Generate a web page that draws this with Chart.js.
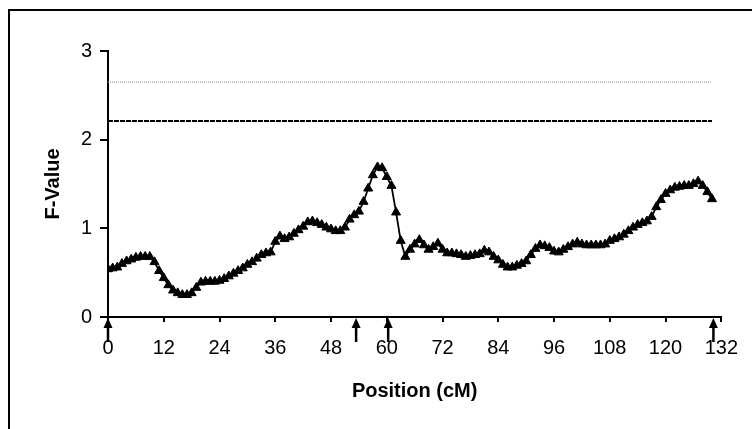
<!DOCTYPE html>
<html><head><meta charset="utf-8">
<script src="https://cdn.jsdelivr.net/npm/chart.js@4/dist/chart.umd.min.js"></script>
<style>html,body{margin:0;padding:0;background:#fff;overflow:hidden}
#wrap{position:relative;width:752px;height:429px}</style></head>
<body><div id="wrap"><canvas id="c" width="752" height="429"></canvas></div>
<script>
const positions = [0,1,2,3,4,5,6,7,8,9,10,11,12,13,14,15,16,17,18,19,20,21,22,23,24,25,26,27,28,29,30,31,32,33,34,35,36,37,38,39,40,41,42,43,44,45,46,47,48,49,50,51,52,53,54,55,56,57,58,59,60,61,62,63,64,65,66,67,68,69,70,71,72,73,74,75,76,77,78,79,80,81,82,83,84,85,86,87,88,89,90,91,92,93,94,95,96,97,98,99,100,101,102,103,104,105,106,107,108,109,110,111,112,113,114,115,116,117,118,119,120,121,122,123,124,125,126,127,128,129,130];
const fValues = [0.54,0.55,0.56,0.60,0.63,0.65,0.67,0.68,0.68,0.68,0.62,0.52,0.44,0.36,0.30,0.27,0.25,0.25,0.27,0.33,0.39,0.40,0.40,0.40,0.41,0.43,0.46,0.49,0.52,0.55,0.59,0.62,0.66,0.70,0.72,0.73,0.85,0.91,0.88,0.90,0.94,0.98,1.02,1.07,1.08,1.06,1.04,1.01,0.99,0.97,0.97,1.01,1.10,1.15,1.19,1.30,1.45,1.60,1.69,1.68,1.58,1.48,1.18,0.86,0.68,0.76,0.82,0.87,0.81,0.76,0.79,0.83,0.76,0.72,0.72,0.71,0.70,0.68,0.69,0.70,0.71,0.75,0.73,0.68,0.64,0.59,0.56,0.56,0.58,0.60,0.63,0.70,0.77,0.81,0.80,0.78,0.74,0.73,0.76,0.79,0.82,0.84,0.82,0.81,0.81,0.81,0.81,0.82,0.86,0.88,0.90,0.93,0.97,1.01,1.04,1.06,1.08,1.13,1.24,1.32,1.39,1.43,1.46,1.47,1.48,1.48,1.50,1.53,1.48,1.41,1.33];
const thresholdSpan = [0, 130];
const thresholdHigh = 2.65;
const thresholdLow = 2.21;
const markerPositions = [0, 53.4, 60.3, 130.3];
const xTickValues = [0,12,24,36,48,60,72,84,96,108,120,132];
const yTickValues = [0,1,2,3];

const mainData = positions.map((p,i)=>({x:p,y:fValues[i]}));
const lineHigh = thresholdSpan.map(p=>({x:p,y:thresholdHigh}));
const lineLow = thresholdSpan.map(p=>({x:p,y:thresholdLow}));

const framePlugin = {id:'frame', beforeDraw(chart){const c=chart.ctx;c.save();c.fillStyle='#fff';c.fillRect(0,0,chart.width,chart.height);c.strokeStyle='#000';c.lineWidth=2;c.strokeRect(9,10,900,600);c.restore();}};
const arrowPlugin = {id:'arrows', afterDraw(chart){
  const c=chart.ctx, xs=chart.scales.x, y0=chart.chartArea.bottom+1;
  c.save(); c.fillStyle='#000'; c.strokeStyle='#000'; c.lineWidth=2.5;
  markerPositions.forEach(p=>{
    const px=xs.getPixelForValue(p);
    c.beginPath(); c.moveTo(px,y0+8); c.lineTo(px,y0+24); c.stroke();
    c.beginPath(); c.moveTo(px,y0); c.lineTo(px-4.5,y0+10); c.lineTo(px+4.5,y0+10); c.closePath(); c.fill();
  });
  c.restore();
}};

const font = {family:'"Liberation Sans", Arial, sans-serif', size:20};
new Chart(document.getElementById('c'), {
  type:'scatter',
  data:{datasets:[
    {data:mainData, showLine:true, borderColor:'#000', borderWidth:1.8, pointStyle:'triangle', pointRadius:5.2, pointBackgroundColor:'#000', pointBorderColor:'#000', pointBorderWidth:1, tension:0},
    {data:lineHigh, showLine:true, borderColor:'#9a9a9a', borderWidth:1.2, borderDash:[1,1], pointRadius:0},
    {data:lineLow, showLine:true, borderColor:'#000', borderWidth:2, borderDash:[5,1], pointRadius:0}
  ]},
  options:{
    responsive:false, devicePixelRatio:1, animation:false,
    layout:{padding:{left:0, top:51, right:29, bottom:0}},
    plugins:{legend:{display:false}, tooltip:{enabled:false}},
    scales:{
      x:{type:'linear', min:0, max:132,
        afterBuildTicks:s=>{s.ticks=xTickValues.map(v=>({value:v}));},
        afterFit:s=>{s.height=112;},
        ticks:{color:'#000', font:font, padding:14, maxRotation:0, autoSkip:false},
        grid:{drawOnChartArea:false, drawTicks:true, tickLength:5, color:'#000', lineWidth:2},
        border:{color:'#000', width:2},
        title:{display:true, text:'Position (cM)', color:'#000', font:{family:font.family, size:20, weight:'bold'}, padding:{top:0,bottom:26}}
      },
      y:{min:0, max:3,
        afterBuildTicks:s=>{s.ticks=yTickValues.map(v=>({value:v}));},
        afterFit:s=>{s.width=108;},
        ticks:{color:'#000', font:font, padding:8},
        grid:{drawOnChartArea:false, drawTicks:true, tickLength:8, color:'#000', lineWidth:2},
        border:{color:'#000', width:2},
        title:{display:true, text:'F-Value', color:'#000', font:{family:font.family, size:20, weight:'bold'}, padding:{top:41,bottom:0}}
      }
    }
  },
  plugins:[framePlugin, arrowPlugin]
});
</script></body></html>
